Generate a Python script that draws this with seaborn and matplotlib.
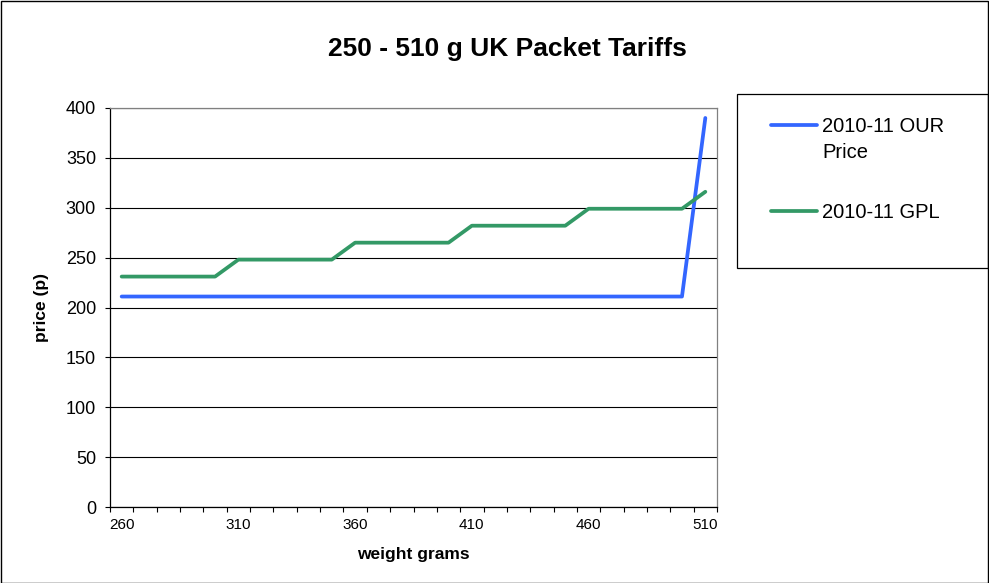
import matplotlib
matplotlib.use("Agg")
import matplotlib.pyplot as plt
from matplotlib.patches import Rectangle
from matplotlib.lines import Line2D
from matplotlib.ticker import FixedLocator, NullFormatter
import numpy as np
import pandas as pd
import seaborn as sns

# weight bands (grams)
weights = [260, 270, 280, 290, 300, 310, 320, 330, 340, 350, 360, 370, 380,
           390, 400, 410, 420, 430, 440, 450, 460, 470, 480, 490, 500, 510]
# prices in pence
our_price = [211, 211, 211, 211, 211, 211, 211, 211, 211, 211, 211, 211, 211,
             211, 211, 211, 211, 211, 211, 211, 211, 211, 211, 211, 211, 390]
gpl_price = [231, 231, 231, 231, 231, 248, 248, 248, 248, 248, 265, 265, 265,
             265, 265, 282, 282, 282, 282, 282, 299, 299, 299, 299, 299, 316]
series_names = ["2010-11 OUR Price", "2010-11 GPL"]
x_labels = [260, 310, 360, 410, 460, 510]
y_ticks = [0, 50, 100, 150, 200, 250, 300, 350, 400]

df = pd.concat([
    pd.DataFrame({"weight": weights, "price": our_price, "series": series_names[0]}),
    pd.DataFrame({"weight": weights, "price": gpl_price, "series": series_names[1]}),
])

sns.set_theme(style="white")
plt.rcParams["font.family"] = ["Liberation Sans", "DejaVu Sans"]
for key in ("text.color", "axes.labelcolor", "xtick.color", "ytick.color"):
    plt.rcParams[key] = "black"

W, H = 989, 583


def fx(px):
    return px / W


def fy(py):
    return 1 - py / H


fig = plt.figure(figsize=(W / 100, H / 100), dpi=100)
left, right, top, bottom = 110, 717, 108, 507
ax = fig.add_axes([fx(left), fy(bottom), (right - left) / W, (bottom - top) / H])

palette = {series_names[0]: "#3366FF", series_names[1]: "#339966"}
LW = 2.7
sns.lineplot(data=df, x="weight", y="price", hue="series", palette=palette,
             linewidth=LW, ax=ax, legend=False, solid_capstyle="round",
             solid_joinstyle="round")

# category-style x axis: ticks at band boundaries, labels every fifth band
ax.set_xlim(weights[0] - 5, weights[-1] + 5)
ax.set_xticks(x_labels)
ax.set_xticklabels([str(v) for v in x_labels], fontsize=11)
ax.xaxis.set_minor_locator(FixedLocator(np.arange(weights[0] - 5, weights[-1] + 6, 10)))
ax.xaxis.set_minor_formatter(NullFormatter())
ax.tick_params(axis="x", which="major", length=0, pad=8)
ax.tick_params(axis="x", which="minor", length=3.6, width=0.8, color="black",
               direction="out", bottom=True)

ax.set_ylim(0, 400)
ax.set_yticks(y_ticks)
ax.set_yticklabels([str(v) for v in y_ticks], fontsize=13)
ax.tick_params(axis="y", length=3.6, width=0.8, color="black", direction="out",
               left=True, pad=6.5)

ax.grid(axis="y", color="black", linewidth=0.8)
ax.grid(axis="x", visible=False)
ax.set_axisbelow(True)

for side in ("left", "bottom"):
    ax.spines[side].set_color("black")
    ax.spines[side].set_linewidth(0.9)
for side in ("top", "right"):
    ax.spines[side].set_color("#808080")
    ax.spines[side].set_linewidth(0.9)

ax.set_xlabel("weight grams", fontsize=12.5, fontweight="bold")
ax.set_ylabel("price (p)", fontsize=12.5, fontweight="bold")
ax.xaxis.set_label_coords(0.5, -(547 - bottom) / (bottom - top))
ax.yaxis.set_label_coords((49 - left) / (right - left), 0.5)

fig.text(fx(507), fy(56), "250 - 510 g UK Packet Tariffs", ha="center",
         va="baseline", fontsize=19, fontweight="bold")

# legend box with entries; the key line sits beside the first text line
fig.patches.append(Rectangle((fx(737), fy(268)), (988 - 737) / W, (268 - 94) / H,
                             transform=fig.transFigure, fill=False,
                             edgecolor="black", linewidth=0.9))
legend_rows = [
    (series_names[0], ["2010-11 OUR", "Price"], 125, 132),
    (series_names[1], ["2010-11 GPL"], 211, 218),
]
for name, lines, line_y, base_y in legend_rows:
    fig.add_artist(Line2D([fx(771), fx(817)], [fy(line_y), fy(line_y)],
                          transform=fig.transFigure, color=palette[name],
                          linewidth=LW, solid_capstyle="round"))
    for i, txt in enumerate(lines):
        fig.text(fx(822), fy(base_y + 26 * i), txt, ha="left", va="baseline",
                 fontsize=14.5)

# outer chart border
fig.patches.append(Rectangle((0.5 / W, 0.5 / H), (W - 1.5) / W, (H - 1.5) / H,
                             transform=fig.transFigure, fill=False,
                             edgecolor="black", linewidth=1))

fig.savefig("out.png", dpi=100, facecolor="white")
